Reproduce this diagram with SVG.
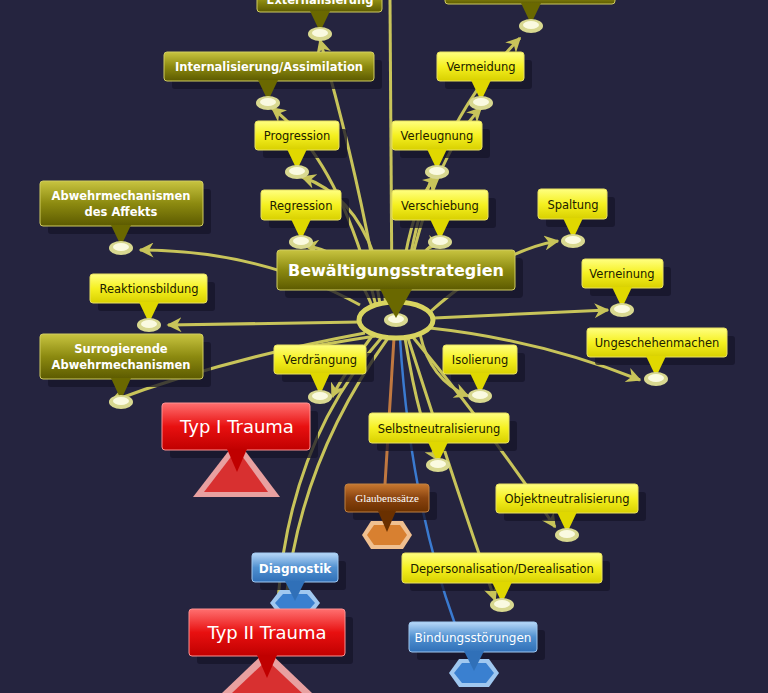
<svg xmlns="http://www.w3.org/2000/svg" width="768" height="693" viewBox="0 0 768 693">
<defs>
<linearGradient id="gy" x1="0" y1="0" x2="0" y2="1"><stop offset="0" stop-color="#ffff80"/><stop offset="0.5" stop-color="#f5f020"/><stop offset="1" stop-color="#d8d000"/></linearGradient>
<linearGradient id="go" x1="0" y1="0" x2="0" y2="1"><stop offset="0" stop-color="#c8c440"/><stop offset="0.5" stop-color="#8c8a10"/><stop offset="1" stop-color="#5c5a00"/></linearGradient>
<linearGradient id="gr" x1="0" y1="0" x2="0" y2="1"><stop offset="0" stop-color="#ff7070"/><stop offset="0.5" stop-color="#e81010"/><stop offset="1" stop-color="#c00000"/></linearGradient>
<linearGradient id="gb" x1="0" y1="0" x2="0" y2="1"><stop offset="0" stop-color="#b8d8f8"/><stop offset="0.5" stop-color="#5090d0"/><stop offset="1" stop-color="#3070b8"/></linearGradient>
<linearGradient id="gn" x1="0" y1="0" x2="0" y2="1"><stop offset="0" stop-color="#c87830"/><stop offset="0.5" stop-color="#8a4410"/><stop offset="1" stop-color="#6a3000"/></linearGradient>
<marker id="ar" viewBox="0 0 10 10" refX="9" refY="5" markerWidth="5" markerHeight="5" orient="auto"><path d="M0,0L10,5L0,10L3,5z" fill="#c8c45a"/></marker>
<symbol id="dot" overflow="visible"><ellipse cx="0" cy="0" rx="12" ry="7" fill="#d8d890"/><ellipse cx="0" cy="-1" rx="8" ry="4" fill="#fafae0"/></symbol>
</defs>
<style>
.c{fill:none;stroke:#c8c45a;stroke-width:3;marker-end:url(#ar)}
.y rect{fill:url(#gy);stroke:#e8e060}
.y path{fill:#e0d800}
.o rect{fill:url(#go);stroke:#d0cc60}
.o path{fill:#6a6800}
.t{font-family:"DejaVu Sans",Verdana,sans-serif;font-size:11.5px;text-anchor:middle;fill:#202000}
.o .t{fill:#fff;font-weight:bold}
g rect.sh{fill:#15142a;stroke:none;opacity:0.75}
</style>
<rect width="768" height="693" fill="#25243f"/>
<g id="connectors">
<path class="c" d="M392,302 L390,0" style="marker-end:none"/>
<path class="c" d="M380,304 Q360,180 320,40"/>
<path class="c" d="M376,306 Q340,160 272,108"/>
<path class="c" d="M386,304 Q370,200 302,177"/>
<path class="c" d="M372,306 Q350,250 305,246"/>
<path class="c" d="M402,304 Q430,160 481,108"/>
<path class="c" d="M404,302 Q420,140 520,38"/>
<path class="c" d="M398,304 Q410,200 437,177"/>
<path class="c" d="M400,304 Q420,240 440,246"/>
<path class="c" d="M430,312 Q500,250 558,241"/>
<path class="c" d="M360,305 Q260,250 140,250"/>
<path class="c" d="M360,322 L168,325"/>
<path class="c" d="M434,318 L608,310"/>
<path class="c" d="M430,328 Q540,340 640,380"/>
<path class="c" d="M365,333 Q220,360 110,402"/>
<path class="c" d="M372,336 Q340,380 332,397"/>
<path class="c" d="M375,336 Q290,350 276,352" style="marker-end:none"/>
<path class="c" d="M420,334 Q430,380 468,396"/>
<path class="c" d="M405,338 Q420,430 438,460"/>
<path class="c" d="M412,336 Q490,430 555,527"/>
<path class="c" d="M408,338 Q460,500 495,600"/>
<path class="c" d="M383,336 Q290,440 278,600" style="marker-end:none"/>
<path class="c" d="M388,338 Q300,460 286,600" style="marker-end:none"/>
<path d="M394,338 L385,484" fill="none" stroke="#c07840" stroke-width="3"/>
<path d="M400,338 Q410,500 455,624" fill="none" stroke="#3a7ad0" stroke-width="2.5"/>
</g>
<g id="center"><ellipse cx="396" cy="320" rx="37" ry="18" fill="#25243f" stroke="#d8d460" stroke-width="5"/><use href="#dot" x="396" y="320"/></g>
<g id="n-bew" class="o"><rect class="sh" x="285" y="258" width="238" height="40" rx="4"/><rect x="277" y="250" width="238" height="40" rx="3"/><path d="M380,289 L412,289 L396,318z"/><text class="t" x="396" y="276" style="font-size:16px">Bewältigungsstrategien</text></g>
<g id="n-ext" class="o"><rect x="257" y="-10" width="125" height="22" rx="3"/><path d="M310,11 L330,11 L320,32z"/><text class="t" x="320" y="4">Externalisierung</text><use href="#dot" x="320" y="34"/></g>
<g id="n-top" class="o"><rect x="445" y="-10" width="170" height="14" rx="3"/><path d="M521,3 L541,3 L531,24z"/><use href="#dot" x="531" y="26"/></g>
<g id="n-int" class="o"><rect class="sh" x="172" y="60" width="210" height="29" rx="3"/><rect x="164" y="52" width="210" height="29" rx="3"/><path d="M258,80 L278,80 L268,101z"/><text class="t" x="269" y="71">Internalisierung/Assimilation</text><use href="#dot" x="268" y="103"/></g>
<g id="n-verm" class="y"><rect class="sh" x="445" y="60" width="87" height="29" rx="3"/><rect x="437" y="52" width="87" height="29" rx="3"/><path d="M471,80 L491,80 L481,101z"/><text class="t" x="481" y="71">Vermeidung</text><use href="#dot" x="481" y="103"/></g>
<g id="n-prog" class="y"><rect class="sh" x="263" y="129" width="84" height="29" rx="3"/><rect x="255" y="121" width="84" height="29" rx="3"/><path d="M287,149 L307,149 L297,170z"/><text class="t" x="297" y="140">Progression</text><use href="#dot" x="297" y="172"/></g>
<g id="n-verl" class="y"><rect class="sh" x="400" y="129" width="90" height="29" rx="3"/><rect x="392" y="121" width="90" height="29" rx="3"/><path d="M427,149 L447,149 L437,170z"/><text class="t" x="437" y="140">Verleugnung</text><use href="#dot" x="437" y="172"/></g>
<g id="n-reg" class="y"><rect class="sh" x="269" y="198" width="80" height="30" rx="3"/><rect x="261" y="190" width="80" height="30" rx="3"/><path d="M291,219 L311,219 L301,240z"/><text class="t" x="301" y="210">Regression</text><use href="#dot" x="301" y="242"/></g>
<g id="n-versch" class="y"><rect class="sh" x="400" y="198" width="96" height="30" rx="3"/><rect x="392" y="190" width="96" height="30" rx="3"/><path d="M430,219 L450,219 L440,240z"/><text class="t" x="440" y="210">Verschiebung</text><use href="#dot" x="440" y="242"/></g>
<g id="n-spalt" class="y"><rect class="sh" x="546" y="197" width="69" height="30" rx="3"/><rect x="538" y="189" width="69" height="30" rx="3"/><path d="M563,218 L583,218 L573,239z"/><text class="t" x="573" y="209">Spaltung</text><use href="#dot" x="573" y="241"/></g>
<g id="n-aff" class="o"><rect class="sh" x="48" y="189" width="163" height="45" rx="3"/><rect x="40" y="181" width="163" height="45" rx="3"/><path d="M111,225 L131,225 L121,246z"/><text class="t" x="121" y="200">Abwehrmechanismen</text><text class="t" x="121" y="216">des Affekts</text><use href="#dot" x="121" y="248"/></g>
<g id="n-reak" class="y"><rect class="sh" x="98" y="282" width="117" height="29" rx="3"/><rect x="90" y="274" width="117" height="29" rx="3"/><path d="M139,302 L159,302 L149,323z"/><text class="t" x="149" y="293">Reaktionsbildung</text><use href="#dot" x="149" y="325"/></g>
<g id="n-vern" class="y"><rect class="sh" x="590" y="267" width="81" height="29" rx="3"/><rect x="582" y="259" width="81" height="29" rx="3"/><path d="M612,287 L632,287 L622,308z"/><text class="t" x="622" y="278">Verneinung</text><use href="#dot" x="622" y="310"/></g>
<g id="n-surr" class="o"><rect class="sh" x="48" y="342" width="163" height="45" rx="3"/><rect x="40" y="334" width="163" height="45" rx="3"/><path d="M111,378 L131,378 L121,400z"/><text class="t" x="121" y="353">Surrogierende</text><text class="t" x="121" y="369">Abwehrmechanismen</text><use href="#dot" x="121" y="402"/></g>
<g id="n-ung" class="y"><rect class="sh" x="595" y="336" width="140" height="29" rx="3"/><rect x="587" y="328" width="140" height="29" rx="3"/><path d="M646,356 L666,356 L656,377z"/><text class="t" x="657" y="347">Ungeschehenmachen</text><use href="#dot" x="656" y="379"/></g>
<g id="n-verd" class="y"><rect class="sh" x="282" y="353" width="92" height="29" rx="3"/><rect x="274" y="345" width="92" height="29" rx="3"/><path d="M310,373 L330,373 L320,395z"/><text class="t" x="320" y="364">Verdrängung</text><use href="#dot" x="320" y="397"/></g>
<g id="n-iso" class="y"><rect class="sh" x="451" y="353" width="74" height="29" rx="3"/><rect x="443" y="345" width="74" height="29" rx="3"/><path d="M470,373 L490,373 L480,394z"/><text class="t" x="480" y="364">Isolierung</text><use href="#dot" x="480" y="396"/></g>
<g id="n-typ1"><rect class="sh" x="170" y="411" width="148" height="47" rx="3"/><path d="M193,497 L237,440 L280,497z" fill="#e8a0a0"/><path d="M204,492 L237,449 L268,492z" fill="#d83030"/><rect x="162" y="403" width="148" height="47" rx="3" fill="url(#gr)" stroke="#ff9090"/><path d="M227,449 L247,449 L237,472z" fill="#c00000"/><text x="237" y="433" style="font-family:'DejaVu Sans',Verdana,sans-serif;font-size:18px;fill:#fff;text-anchor:middle">Typ I Trauma</text></g>
<g id="n-selbst" class="y"><rect class="sh" x="377" y="421" width="140" height="30" rx="3"/><rect x="369" y="413" width="140" height="30" rx="3"/><path d="M428,442 L448,442 L438,463z"/><text class="t" x="439" y="433">Selbstneutralisierung</text><use href="#dot" x="438" y="465"/></g>
<g id="n-glaub"><rect class="sh" x="353" y="492" width="84" height="28" rx="3"/><path d="M371,521 L403,521 L412,535 L403,549 L371,549 L362,535z" fill="#f0c090"/><path d="M374,525 L400,525 L407,535 L400,545 L374,545 L367,535z" fill="#d88030"/><rect x="345" y="484" width="84" height="28" rx="3" fill="url(#gn)" stroke="#c08040"/><path d="M378,511 L396,511 L387,532z" fill="#6a3000"/><text x="387" y="502" style="font-family:'Liberation Serif',serif;font-size:11px;fill:#fff;text-anchor:middle">Glaubenssätze</text></g>
<g id="n-obj" class="y"><rect class="sh" x="504" y="492" width="142" height="29" rx="3"/><rect x="496" y="484" width="142" height="29" rx="3"/><path d="M557,512 L577,512 L567,533z"/><text class="t" x="567" y="503">Objektneutralisierung</text><use href="#dot" x="567" y="535"/></g>
<g id="n-diag"><rect class="sh" x="260" y="561" width="86" height="29" rx="3"/><path d="M280,590 L310,590 L320,603 L310,616 L280,616 L270,603z" fill="#a0c8f0"/><path d="M283,594 L307,594 L315,603 L307,612 L283,612 L275,603z" fill="#3a80d0"/><rect x="252" y="553" width="86" height="29" rx="3" fill="url(#gb)" stroke="#a0c8f0"/><path d="M285,581 L305,581 L295,601z" fill="#3070b8"/><text x="295" y="573" style="font-family:'DejaVu Sans',Verdana,sans-serif;font-size:12px;font-weight:bold;fill:#fff;text-anchor:middle">Diagnostik</text></g>
<g id="n-dep" class="y"><rect class="sh" x="410" y="561" width="200" height="30" rx="3"/><rect x="402" y="553" width="200" height="30" rx="3"/><path d="M492,582 L512,582 L502,603z"/><text class="t" x="502" y="573">Depersonalisation/Derealisation</text><use href="#dot" x="502" y="605"/></g>
<g id="n-typ2"><rect class="sh" x="197" y="617" width="156" height="47" rx="3"/><path d="M222,693 L267,650 L312,693z" fill="#e8a0a0"/><path d="M232,693 L267,660 L302,693z" fill="#d83030"/><rect x="189" y="609" width="156" height="47" rx="3" fill="url(#gr)" stroke="#ff9090"/><path d="M257,655 L277,655 L267,678z" fill="#c00000"/><text x="267" y="639" style="font-family:'DejaVu Sans',Verdana,sans-serif;font-size:18px;fill:#fff;text-anchor:middle">Typ II Trauma</text></g>
<g id="n-bind"><rect class="sh" x="417" y="630" width="128" height="30" rx="3"/><path d="M459,659 L489,659 L499,673 L489,687 L459,687 L449,673z" fill="#a0c8f0"/><path d="M462,663 L486,663 L494,673 L486,683 L462,683 L454,673z" fill="#3a80d0"/><rect x="409" y="622" width="128" height="30" rx="3" fill="url(#gb)" stroke="#a0c8f0"/><path d="M464,651 L484,651 L474,671z" fill="#3070b8"/><text x="473" y="642" style="font-family:'DejaVu Sans',Verdana,sans-serif;font-size:12px;fill:#fff;text-anchor:middle">Bindungsstörungen</text></g>
</svg>
